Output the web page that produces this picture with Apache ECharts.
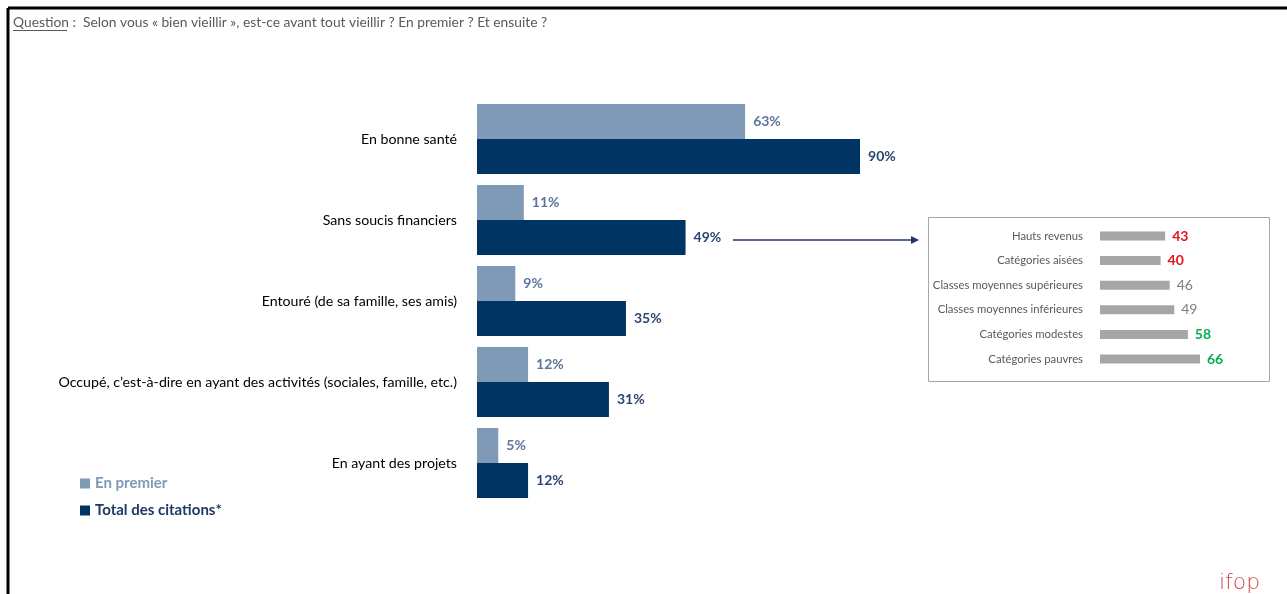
<!DOCTYPE html>
<html><head><meta charset="utf-8">
<script src="https://cdn.jsdelivr.net/npm/echarts@6/dist/echarts.min.js"></script>
<style>html,body{margin:0;padding:0;background:#fff}#c{width:1287px;height:594px}</style>
</head><body><div id="c"></div>
<script>
const categories = ['En bonne santé','Sans soucis financiers','Entouré (de sa famille, ses amis)','Occupé, c\u2019est-à-dire en ayant des activités (sociales, famille, etc.)','En ayant des projets'];
const enPremier = [63, 11, 9, 12, 5];
const totalCitations = [90, 49, 35, 31, 12];
const insetCategories = ['Hauts revenus','Catégories aisées','Classes moyennes supérieures','Classes moyennes inférieures','Catégories modestes','Catégories pauvres'];
const insetValues = [43, 40, 46, 49, 58, 66];
const insetTone = ['low','low','mid','mid','high','high'];

const FONT = 'Lato';
const toneStyle = {low:{color:'#e0141e',fontWeight:'bold'}, mid:{color:'#7f7f7f',fontWeight:'normal'}, high:{color:'#00b050',fontWeight:'bold'}};

const chart = echarts.init(document.getElementById('c'));
chart.setOption({
  animation:false,
  textStyle:{fontFamily:FONT},
  title:{text:'Question :  Selon vous « bien vieillir », est-ce avant tout vieillir ? En premier ? Et ensuite ?',left:8,top:11,
    textStyle:{fontSize:13.8,fontWeight:'normal',color:'#595959',fontFamily:FONT}},
  legend:{orient:'vertical',left:75,top:471,itemWidth:10,itemHeight:10,itemGap:12,icon:'rect',
    textStyle:{fontSize:15,fontWeight:'bold',fontFamily:FONT},
    data:[{name:'En premier',textStyle:{color:'#7f9ab6'}},{name:'Total des citations*',textStyle:{color:'#1f3864'}}]},
  grid:[{left:477,top:98.5,width:425.6,height:405},{left:1100,top:223.7,width:121.2,height:147.6}],
  xAxis:[{gridIndex:0,type:'value',min:0,max:100,show:false},{gridIndex:1,type:'value',min:0,max:80,show:false}],
  yAxis:[{gridIndex:0,type:'category',inverse:true,data:categories,axisLine:{show:false},axisTick:{show:false},
    axisLabel:{margin:20,fontSize:14.2,color:'#000',fontFamily:FONT}},
    {gridIndex:1,type:'category',inverse:true,data:insetCategories,axisLine:{show:false},axisTick:{show:false},
    axisLabel:{margin:17,fontSize:11.3,color:'#595959',fontFamily:FONT}}],
  series:[
    {name:'En premier',type:'bar',xAxisIndex:0,yAxisIndex:0,data:enPremier,barWidth:35,barGap:'0%',
      itemStyle:{color:'#7f9ab6'},
      label:{show:true,position:'right',distance:8,formatter:'{c}%',fontSize:14,fontWeight:'bold',color:'#5b7599',fontFamily:FONT}},
    {name:'Total des citations*',type:'bar',xAxisIndex:0,yAxisIndex:0,data:totalCitations,barWidth:35,barGap:'0%',
      itemStyle:{color:'#003462'},
      label:{show:true,position:'right',distance:8,formatter:'{c}%',fontSize:14,fontWeight:'bold',color:'#2b4770',fontFamily:FONT}},
    {name:'inset',type:'bar',xAxisIndex:1,yAxisIndex:1,barWidth:9,
      data:insetValues.map((v,i)=>({value:v,label:toneStyle[insetTone[i]]})),
      itemStyle:{color:'#a6a6a6'},
      label:{show:true,position:'right',distance:7,fontSize:14,fontFamily:FONT}}
  ],
  graphic:[
    {type:'line',shape:{x1:8,y1:8,x2:1287,y2:8},style:{stroke:'#000',lineWidth:3}},
    {type:'line',shape:{x1:8,y1:8,x2:8,y2:594},style:{stroke:'#000',lineWidth:3}},
    {type:'line',shape:{x1:13,y1:30.5,x2:67,y2:30.5},style:{stroke:'#595959',lineWidth:1}},
    {type:'rect',shape:{x:928.5,y:217.5,width:341,height:164},style:{fill:'none',stroke:'#a6a6a6',lineWidth:1}},
    {type:'line',shape:{x1:733,y1:240,x2:912,y2:240},style:{stroke:'#1f3864',lineWidth:1.5}},
    {type:'polygon',shape:{points:[[911,236],[919,240],[911,244]]},style:{fill:'#1f3864'}},
    {type:'text',left:1219,top:572,style:{text:'ifop',fontSize:22,fill:'#cc4a4a',fontFamily:'DejaVu Sans',fontWeight:'lighter'}}
  ]
});
</script></body></html>
